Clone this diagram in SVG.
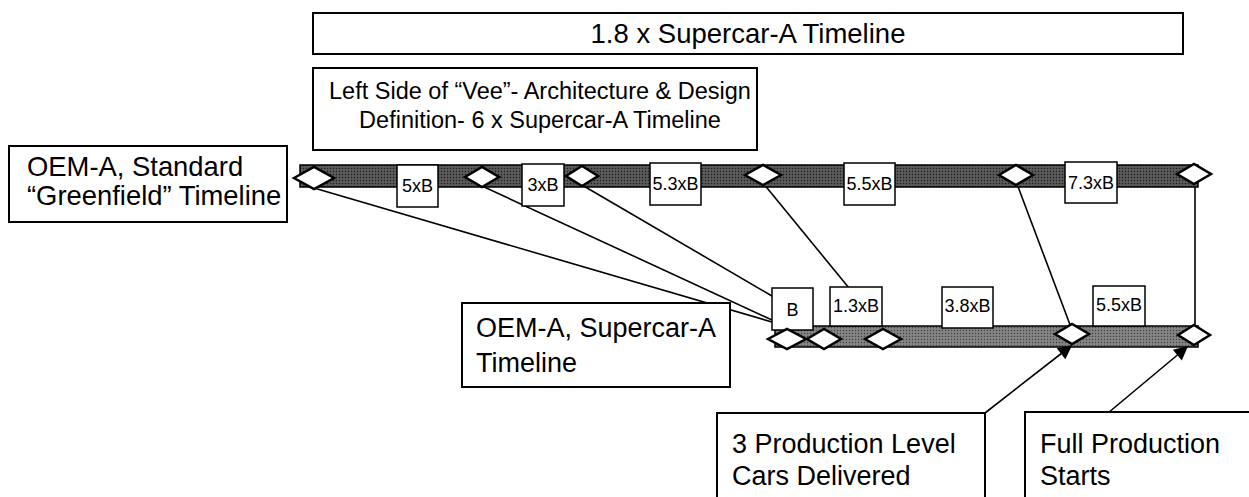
<svg xmlns="http://www.w3.org/2000/svg" width="1249" height="497" viewBox="0 0 1249 497">
<defs>
<pattern id="dots" width="3" height="3" patternUnits="userSpaceOnUse">
<rect width="3" height="3" fill="#505050"/>
<rect width="1" height="1" fill="#222"/>
<rect x="1.5" y="1.5" width="1" height="1" fill="#808080"/>
</pattern>
<pattern id="dots2" width="3" height="3" patternUnits="userSpaceOnUse">
<rect width="3" height="3" fill="#7a7a7a"/>
<rect width="1" height="1" fill="#444"/>
<rect x="1.5" y="1.5" width="1" height="1" fill="#a5a5a5"/>
</pattern>
<marker id="arr" viewBox="0 0 10 10" refX="9" refY="5" markerWidth="16" markerHeight="14" orient="auto" markerUnits="userSpaceOnUse">
<path d="M0,0 L10,5 L0,10 z" fill="#000"/>
</marker>
</defs>
<style>
.box{fill:#fff;stroke:#000;stroke-width:2}
.lab{fill:#fff;stroke:#000;stroke-width:1.5}
.dia{fill:#fff;stroke:#000;stroke-width:2.5}
.t{font-family:"Liberation Sans",Arial,sans-serif;fill:#000}
.ln{stroke:#000;stroke-width:1.6;fill:none}
</style>
<rect width="1249" height="497" fill="#fff"/>

<g id="connectors">
<line class="ln" x1="314" y1="188" x2="772" y2="322"/>
<line class="ln" x1="482" y1="186" x2="772" y2="320"/>
<line class="ln" x1="582" y1="185" x2="772" y2="296"/>
<line class="ln" x1="763" y1="183" x2="849" y2="288"/>
<line class="ln" x1="1017" y1="184" x2="1072" y2="330"/>
<line class="ln" x1="1195" y1="184" x2="1195" y2="330"/>
</g>

<g id="top-bar">
<rect x="300" y="165" width="898" height="22" fill="url(#dots)" stroke="#000" stroke-width="1.5"/>
</g>
<g id="bottom-bar">
<rect x="775" y="326" width="423" height="21" fill="url(#dots2)" stroke="#000" stroke-width="1.5"/>
</g>

<g id="box-18x">
<rect class="box" x="313" y="13" width="870" height="41"/>
<text class="t" x="748" y="43" font-size="27.5" text-anchor="middle">1.8 x Supercar-A Timeline</text>
</g>
<g id="box-vee">
<rect class="box" x="313" y="68" width="444" height="82"/>
<text class="t" x="540" y="99" font-size="23.5" text-anchor="middle">Left Side of “Vee”- Architecture &amp; Design</text>
<text class="t" x="540" y="128" font-size="23.5" text-anchor="middle">Definition- 6 x Supercar-A Timeline</text>
</g>
<g id="box-standard">
<rect class="box" x="9" y="146" width="278" height="76"/>
<text class="t" x="27" y="176" font-size="27.4">OEM-A, Standard</text>
<text class="t" x="27" y="205" font-size="27.4">“Greenfield” Timeline</text>
</g>

<g id="top-labels">
<rect class="lab" x="397" y="165" width="41" height="42"/><text class="t" x="417.5" y="192" font-size="18" text-anchor="middle">5xB</text>
<rect class="lab" x="522" y="164" width="42" height="42"/><text class="t" x="543" y="191" font-size="18" text-anchor="middle">3xB</text>
<rect class="lab" x="650" y="163" width="51" height="42"/><text class="t" x="675.5" y="190" font-size="18" text-anchor="middle">5.3xB</text>
<rect class="lab" x="844" y="163" width="51" height="42"/><text class="t" x="869.5" y="190" font-size="18" text-anchor="middle">5.5xB</text>
<rect class="lab" x="1065" y="162" width="52" height="41"/><text class="t" x="1091" y="189" font-size="18" text-anchor="middle">7.3xB</text>
</g>

<g id="top-diamonds">
<polygon class="dia" points="294,178 314,167 334,178 314,189"/>
<polygon class="dia" points="465,177 482,167 499,177 482,187"/>
<polygon class="dia" points="566,176 582,166 598,176 582,186"/>
<polygon class="dia" points="745,175 763,165 781,175 763,185"/>
<polygon class="dia" points="999,175 1016,165 1033,175 1016,185"/>
<polygon class="dia" points="1177,174 1194,164 1211,174 1194,184"/>
</g>

<g id="bottom-labels">
<rect class="lab" x="772" y="288" width="41" height="42"/><text class="t" x="792.5" y="316" font-size="18" text-anchor="middle">B</text>
<rect class="lab" x="830" y="287" width="52" height="39"/><text class="t" x="856" y="312" font-size="18" text-anchor="middle">1.3xB</text>
<rect class="lab" x="942" y="287" width="51" height="41"/><text class="t" x="967.5" y="312" font-size="18" text-anchor="middle">3.8xB</text>
<rect class="lab" x="1093" y="286" width="52" height="40"/><text class="t" x="1119" y="311" font-size="18" text-anchor="middle">5.5xB</text>
</g>

<g id="bottom-diamonds">
<polygon class="dia" points="768,339 787,329 806,339 787,349"/>
<polygon class="dia" points="807,339 824,329 841,339 824,349"/>
<polygon class="dia" points="865,339 883,329 901,339 883,349"/>
<polygon class="dia" points="1055,334 1072,324 1089,334 1072,344"/>
<polygon class="dia" points="1178,335 1194,325 1210,335 1194,345"/>
</g>

<g id="box-supercar">
<rect class="box" x="462" y="303" width="268" height="84"/>
<text class="t" x="476" y="337" font-size="27">OEM-A, Supercar-A</text>
<text class="t" x="476" y="372" font-size="27">Timeline</text>
</g>

<g id="arrows">
<line class="ln" x1="985" y1="413" x2="1071" y2="346" marker-end="url(#arr)"/>
<line class="ln" x1="1108" y1="413" x2="1187" y2="347" marker-end="url(#arr)"/>
</g>

<g id="box-3prod">
<rect class="box" x="717" y="413" width="268" height="90"/>
<text class="t" x="732" y="453" font-size="27">3 Production Level</text>
<text class="t" x="732" y="485" font-size="27">Cars Delivered</text>
</g>
<g id="box-full">
<rect class="box" x="1025" y="412" width="230" height="90"/>
<text class="t" x="1040" y="453" font-size="27">Full Production</text>
<text class="t" x="1040" y="485" font-size="27">Starts</text>
</g>
</svg>
